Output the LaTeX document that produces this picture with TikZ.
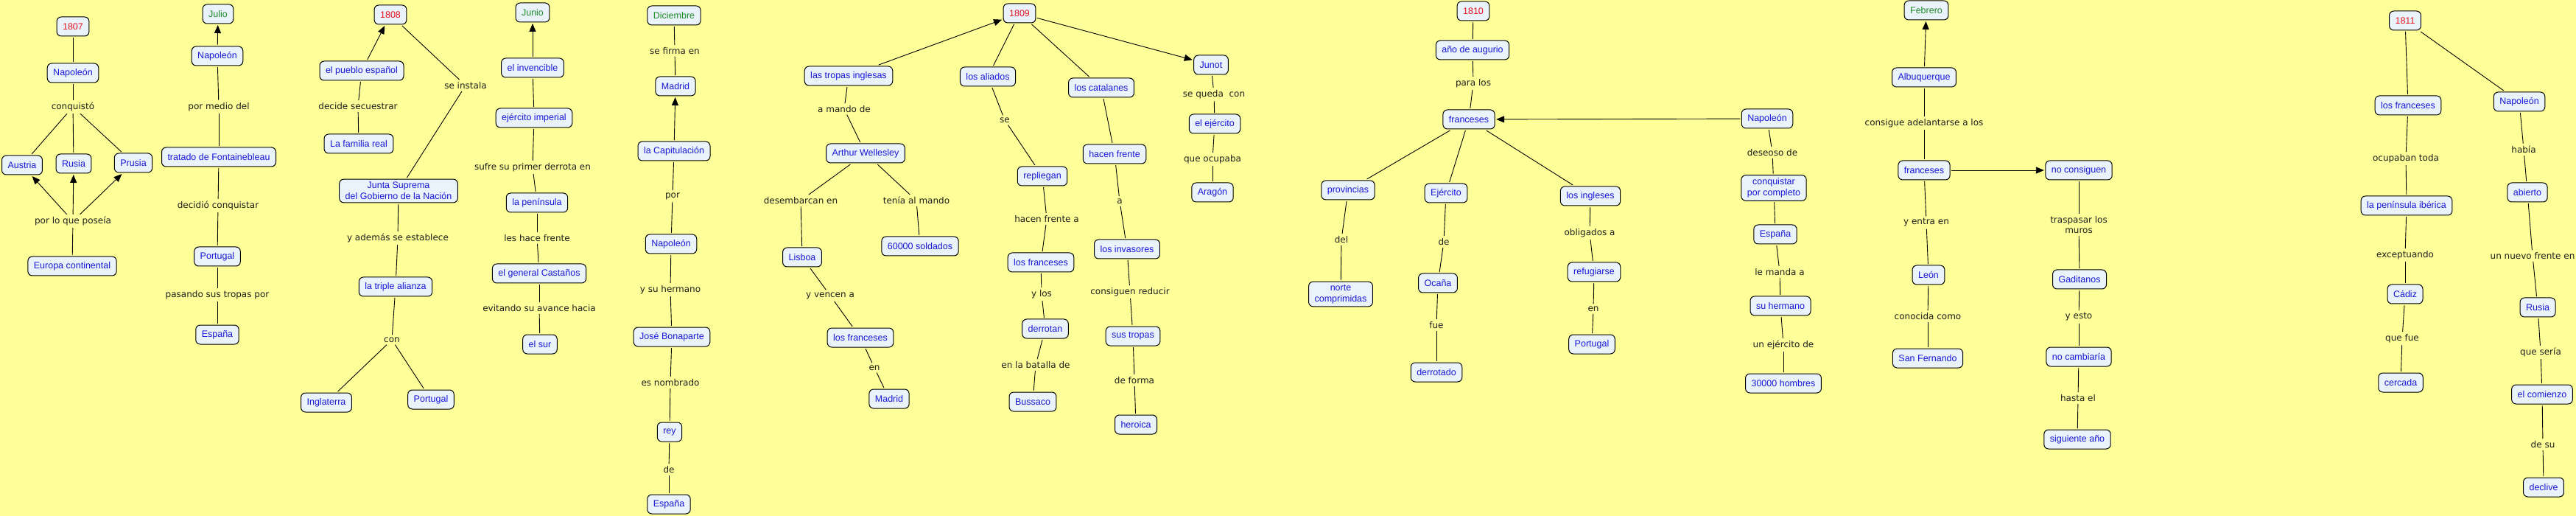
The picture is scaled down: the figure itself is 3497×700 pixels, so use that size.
\documentclass[tikz,border=0pt]{standalone}
\usepackage{fontspec}
\setmainfont{DejaVu Sans}
\newfontfamily\conceptfont{Liberation Sans}
\usetikzlibrary{arrows.meta,backgrounds}
\definecolor{bgyellow}{RGB}{255,255,153}
\definecolor{cfill}{RGB}{234,242,250}
\definecolor{cblue}{RGB}{25,25,215}
\definecolor{cred}{RGB}{230,20,30}
\definecolor{cgreen}{RGB}{30,140,40}
\definecolor{ltext}{RGB}{30,30,30}
\begin{document}
\begin{tikzpicture}[x=1pt,y=-1pt,
 concept/.style={draw=black, line width=1pt, rounded corners=6pt, fill=cfill, text=cblue,
   font=\conceptfont\fontsize{12.5}{15}\selectfont, inner xsep=8pt, inner ysep=4pt,
   minimum height=26pt, align=center, outer sep=2pt},
 year/.style={concept, text=cred},
 month/.style={concept, text=cgreen},
 lbl/.style={font=\fontsize{12}{14}\selectfont, text=ltext, inner sep=3pt, align=center},
 conn/.style={line width=0.9pt, draw=black},
 arr/.style={conn, -{Triangle[length=11pt,width=9pt]}},
]
\fill[bgyellow] (0,0) rectangle (3497,700);
\useasboundingbox (0,0) rectangle (3497,700);

% ---------- timeline ----------
\node[year]  (y1807) at (99,36) {1807};
\node[month] (julio) at (296,19) {Julio};
\node[year]  (y1808) at (530,20) {1808};
\node[month] (junio) at (723,17) {Junio};
\node[month] (dic)   at (915,21) {Diciembre};
\node[year]  (y1809) at (1384,18) {1809};
\node[year]  (y1810) at (2000,15) {1810};
\node[month] (feb)   at (2615,14) {Febrero};
\node[year]  (y1811) at (3265,28) {1811};

% ---------- 1807 ----------
\node[concept] (nap1) at (99,99) {Napoleón};
\node[lbl] (lconq) at (99,145) {conquistó};
\node[concept] (austria) at (30,224) {Austria};
\node[concept] (rusia) at (100,222) {Rusia};
\node[concept] (prusia) at (181,221) {Prusia};
\node[lbl] (lposeia) at (99,300) {por lo que poseía};
\node[concept] (europa) at (98,361) {Europa continental};

% ---------- Julio ----------
\node[concept] (nap2) at (295,76) {Napoleón};
\node[lbl] (lmedio) at (297,145) {por medio del};
\node[concept] (tratado) at (297,213) {tratado de Fontainebleau};
\node[lbl] (ldecidio) at (296,279) {decidió conquistar};
\node[concept] (portugalA) at (295,348) {Portugal};
\node[lbl] (lpasando) at (295,400) {pasando sus tropas por};
\node[concept] (espanaA) at (295,454) {España};

% ---------- 1808 ----------
\node[concept] (pueblo) at (491,96) {el pueblo español};
\node[lbl] (lsecuestrar) at (486,144) {decide secuestrar};
\node[concept] (familia) at (487,195) {La familia real};
\node[lbl] (linstala) at (632,116) {se instala};
\node[concept] (junta) at (541,259) {Junta Suprema\\del Gobierno de la Nación};
\node[lbl] (lestablece) at (540,323) {y además se establece};
\node[concept] (triple) at (537,389) {la triple alianza};
\node[lbl] (lcon) at (532,461) {con};
\node[concept] (inglaterra) at (443,546) {Inglaterra};
\node[concept] (portugalB) at (585,542) {Portugal};

% ---------- Junio ----------
\node[concept] (invencible) at (723,92) {el invencible};
\node[concept] (imperial) at (725,160) {ejército imperial};
\node[lbl] (lsufre) at (723,227) {sufre su primer derrota en};
\node[concept] (peninsula) at (729,275) {la península};
\node[lbl] (lfrente) at (729,323) {les hace frente};
\node[concept] (castanos) at (732,371) {el general Castaños};
\node[lbl] (levitando) at (732,418) {evitando su avance hacia};
\node[concept] (sur) at (733,467) {el sur};

% ---------- Diciembre ----------
\node[lbl] (lfirma) at (916,69) {se firma en};
\node[concept] (madridA) at (917,117) {Madrid};
\node[concept] (capitulacion) at (915,205) {la Capitulación};
\node[lbl] (lpor) at (913,266) {por};
\node[concept] (nap3) at (911,331) {Napoleón};
\node[lbl] (lhermano) at (910,393) {y su hermano};
\node[concept] (jose) at (912,457) {José Bonaparte};
\node[lbl] (lnombrado) at (910,519) {es nombrado};
\node[concept] (rey) at (909,586) {rey};
\node[lbl] (ldeA) at (908,637) {de};
\node[concept] (espanaB) at (908,684) {España};

% ---------- tropas inglesas ----------
\node[concept] (tropas) at (1152,103) {las tropas inglesas};
\node[lbl] (lmando) at (1146,148) {a mando de};
\node[concept] (arthur) at (1175,208) {Arthur Wellesley};
\node[lbl] (ldesemb) at (1087,272) {desembarcan en};
\node[concept] (lisboa) at (1089,349) {Lisboa};
\node[lbl] (lvencen) at (1127,401) {y vencen a};
\node[concept] (francA) at (1168,458) {los franceses};
\node[lbl] (lenA) at (1187,499) {en};
\node[concept] (madridB) at (1207,541) {Madrid};
\node[lbl] (ltenia) at (1244,272) {tenía al mando};
\node[concept] (soldados) at (1249,334) {60000 soldados};

% ---------- 1809 ----------
\node[concept] (aliados) at (1341,104) {los aliados};
\node[lbl] (lse) at (1364,163) {se};
\node[concept] (repliegan) at (1415,239) {repliegan};
\node[lbl] (lhacen) at (1421,297) {hacen frente a};
\node[concept] (francB) at (1413,356) {los franceses};
\node[lbl] (lylos) at (1414,399) {y los};
\node[concept] (derrotan) at (1419,446) {derrotan};
\node[lbl] (lbatalla) at (1406,495) {en la batalla de};
\node[concept] (bussaco) at (1402,545) {Bussaco};
\node[concept] (catalanes) at (1495,119) {los catalanes};
\node[concept] (hacenfrente) at (1513,209) {hacen frente};
\node[lbl] (la) at (1520,273) {a};
\node[concept] (invasores) at (1530,338) {los invasores};
\node[lbl] (lreducir) at (1534,396) {consiguen reducir};
\node[concept] (sustropas) at (1538,456) {sus tropas};
\node[lbl] (lforma) at (1540,516) {de forma};
\node[concept] (heroica) at (1542,576) {heroica};
\node[concept] (junot) at (1644,88) {Junot};
\node[lbl] (lqueda) at (1648,128) {se queda\ \ con};
\node[concept] (ejercitoA) at (1649,168) {el ejército};
\node[lbl] (locupaba) at (1646,216) {que ocupaba};
\node[concept] (aragon) at (1646,261) {Aragón};

% ---------- 1810 ----------
\node[concept] (augurio) at (1999,68) {año de augurio};
\node[lbl] (lpara) at (2000,113) {para los};
\node[concept] (francC) at (1994,162) {franceses};
\node[concept] (provincias) at (1830,258) {provincias};
\node[lbl] (ldel) at (1821,325) {del};
\node[concept] (norte) at (1820,399) {norte\\comprimidas};
\node[concept] (ejercitoB) at (1963,262) {Ejército};
\node[lbl] (ldeB) at (1960,328) {de};
\node[concept] (ocana) at (1952,384) {Ocaña};
\node[lbl] (lfue) at (1950,441) {fue};
\node[concept] (derrotado) at (1950,505) {derrotado};
\node[concept] (ingleses) at (2159,266) {los ingleses};
\node[lbl] (lobligados) at (2158,316) {obligados a};
\node[concept] (refugiarse) at (2164,369) {refugiarse};
\node[lbl] (lenB) at (2163,419) {en};
\node[concept] (portugalC) at (2161,467) {Portugal};
\node[concept] (nap4) at (2399,161) {Napoleón};
\node[lbl] (ldeseoso) at (2406,207) {deseoso de};
\node[concept] (conquistar) at (2408,255) {conquistar\\por completo};
\node[concept] (espanaC) at (2410,318) {España};
\node[lbl] (lmanda) at (2416,369) {le manda a};
\node[concept] (hermano) at (2417,415) {su hermano};
\node[lbl] (lejercito) at (2421,468) {un ejército de};
\node[concept] (hombres) at (2421,520) {30000 hombres};

% ---------- Febrero ----------
\node[concept] (albuquerque) at (2612,105) {Albuquerque};
\node[lbl] (ladelantarse) at (2612,167) {consigue adelantarse a los};
\node[concept] (francD) at (2612,231) {franceses};
\node[concept] (nocons) at (2822,231) {no consiguen};
\node[lbl] (ltraspasar) at (2822,305) {traspasar los\\muros};
\node[concept] (gaditanos) at (2823,379) {Gaditanos};
\node[lbl] (lesto) at (2822,430) {y esto};
\node[concept] (nocambiaria) at (2822,484) {no cambiaría};
\node[lbl] (lhasta) at (2821,540) {hasta el};
\node[concept] (siguiente) at (2820,596) {siguiente año};
\node[lbl] (lentra) at (2615,302) {y entra en};
\node[concept] (leon) at (2618,373) {León};
\node[lbl] (lconocida) at (2617,429) {conocida como};
\node[concept] (sanfernando) at (2617,486) {San Fernando};

% ---------- 1811 ----------
\node[concept] (francE) at (3269,143) {los franceses};
\node[lbl] (locupaban) at (3266,215) {ocupaban toda};
\node[concept] (iberica) at (3267,279) {la península ibérica};
\node[lbl] (lexcept) at (3265,346) {exceptuando};
\node[concept] (cadiz) at (3265,399) {Cádiz};
\node[lbl] (lquefue) at (3261,459) {que fue};
\node[concept] (cercada) at (3259,519) {cercada};
\node[concept] (nap5) at (3420,138) {Napoleón};
\node[lbl] (lhabia) at (3426,203) {había};
\node[concept] (abierto) at (3431,261) {abierto};
\node[lbl] (lfrenteB) at (3438,347) {un nuevo frente en};
\node[concept] (rusiaB) at (3445,417) {Rusia};
\node[lbl] (lseria) at (3449,478) {que sería};
\node[concept] (comienzo) at (3451,535) {el comienzo};
\node[lbl] (ldesu) at (3452,603) {de su};
\node[concept] (declive) at (3453,661) {declive};

% ---------- connectors ----------
\begin{scope}[on background layer]
\draw[arr] (y1807) -- (y1811);
\end{scope}

% 1807
\draw[conn] (y1807) -- (nap1);
\draw[conn] (nap1) -- (lconq);
\draw[conn] (lconq) -- (austria);
\draw[conn] (lconq) -- (rusia);
\draw[conn] (lconq) -- (prusia);
\draw[conn] (europa) -- (lposeia);
\draw[arr] (lposeia) -- (austria);
\draw[arr] (lposeia) -- (rusia);
\draw[arr] (lposeia) -- (prusia);

% Julio
\draw[arr] (nap2) -- (julio);
\draw[conn] (nap2) -- (lmedio);
\draw[conn] (lmedio) -- (tratado);
\draw[conn] (tratado) -- (ldecidio);
\draw[conn] (ldecidio) -- (portugalA);
\draw[conn] (portugalA) -- (lpasando);
\draw[conn] (lpasando) -- (espanaA);

% 1808
\draw[arr] (pueblo) -- (y1808);
\draw[conn] (pueblo) -- (lsecuestrar);
\draw[conn] (lsecuestrar) -- (familia);
\draw[conn] (y1808) -- (linstala);
\draw[conn] (linstala) -- (junta);
\draw[conn] (junta) -- (lestablece);
\draw[conn] (lestablece) -- (triple);
\draw[conn] (triple) -- (lcon);
\draw[conn] (lcon) -- (inglaterra);
\draw[conn] (lcon) -- (portugalB);

% Junio
\draw[arr] (invencible) -- (junio);
\draw[conn] (invencible) -- (imperial);
\draw[conn] (imperial) -- (lsufre);
\draw[conn] (lsufre) -- (peninsula);
\draw[conn] (peninsula) -- (lfrente);
\draw[conn] (lfrente) -- (castanos);
\draw[conn] (castanos) -- (levitando);
\draw[conn] (levitando) -- (sur);

% Diciembre
\draw[conn] (dic) -- (lfirma);
\draw[conn] (lfirma) -- (madridA);
\draw[arr] (capitulacion) -- (madridA);
\draw[conn] (capitulacion) -- (lpor);
\draw[conn] (lpor) -- (nap3);
\draw[conn] (nap3) -- (lhermano);
\draw[conn] (lhermano) -- (jose);
\draw[conn] (jose) -- (lnombrado);
\draw[conn] (lnombrado) -- (rey);
\draw[conn] (rey) -- (ldeA);
\draw[conn] (ldeA) -- (espanaB);

% tropas inglesas
\draw[arr] (tropas) -- (y1809);
\draw[conn] (tropas) -- (lmando);
\draw[conn] (lmando) -- (arthur);
\draw[conn] (arthur) -- (ldesemb);
\draw[conn] (ldesemb) -- (lisboa);
\draw[conn] (lisboa) -- (lvencen);
\draw[conn] (lvencen) -- (francA);
\draw[conn] (francA) -- (lenA);
\draw[conn] (lenA) -- (madridB);
\draw[conn] (arthur) -- (ltenia);
\draw[conn] (ltenia) -- (soldados);

% 1809
\draw[conn] (y1809) -- (aliados);
\draw[conn] (aliados) -- (lse);
\draw[conn] (lse) -- (repliegan);
\draw[conn] (repliegan) -- (lhacen);
\draw[conn] (lhacen) -- (francB);
\draw[conn] (francB) -- (lylos);
\draw[conn] (lylos) -- (derrotan);
\draw[conn] (derrotan) -- (lbatalla);
\draw[conn] (lbatalla) -- (bussaco);
\draw[conn] (y1809) -- (catalanes);
\draw[conn] (catalanes) -- (hacenfrente);
\draw[conn] (hacenfrente) -- (la);
\draw[conn] (la) -- (invasores);
\draw[conn] (invasores) -- (lreducir);
\draw[conn] (lreducir) -- (sustropas);
\draw[conn] (sustropas) -- (lforma);
\draw[conn] (lforma) -- (heroica);
\draw[arr] (y1809) -- (junot);
\draw[conn] (junot) -- (lqueda);
\draw[conn] (lqueda) -- (ejercitoA);
\draw[conn] (ejercitoA) -- (locupaba);
\draw[conn] (locupaba) -- (aragon);

% 1810
\draw[conn] (y1810) -- (augurio);
\draw[conn] (augurio) -- (lpara);
\draw[conn] (lpara) -- (francC);
\draw[conn] (francC) -- (provincias);
\draw[conn] (provincias) -- (ldel);
\draw[conn] (ldel) -- (norte);
\draw[conn] (francC) -- (ejercitoB);
\draw[conn] (ejercitoB) -- (ldeB);
\draw[conn] (ldeB) -- (ocana);
\draw[conn] (ocana) -- (lfue);
\draw[conn] (lfue) -- (derrotado);
\draw[conn] (francC) -- (ingleses);
\draw[conn] (ingleses) -- (lobligados);
\draw[conn] (lobligados) -- (refugiarse);
\draw[conn] (refugiarse) -- (lenB);
\draw[conn] (lenB) -- (portugalC);
\draw[arr] (nap4) -- (francC);
\draw[conn] (nap4) -- (ldeseoso);
\draw[conn] (ldeseoso) -- (conquistar);
\draw[conn] (conquistar) -- (espanaC);
\draw[conn] (espanaC) -- (lmanda);
\draw[conn] (lmanda) -- (hermano);
\draw[conn] (hermano) -- (lejercito);
\draw[conn] (lejercito) -- (hombres);

% Febrero
\draw[arr] (albuquerque) -- (feb);
\draw[conn] (albuquerque) -- (ladelantarse);
\draw[conn] (ladelantarse) -- (francD);
\draw[arr] (francD) -- (nocons);
\draw[conn] (nocons) -- (ltraspasar);
\draw[conn] (ltraspasar) -- (gaditanos);
\draw[conn] (gaditanos) -- (lesto);
\draw[conn] (lesto) -- (nocambiaria);
\draw[conn] (nocambiaria) -- (lhasta);
\draw[conn] (lhasta) -- (siguiente);
\draw[conn] (francD) -- (lentra);
\draw[conn] (lentra) -- (leon);
\draw[conn] (leon) -- (lconocida);
\draw[conn] (lconocida) -- (sanfernando);

% 1811
\draw[conn] (y1811) -- (francE);
\draw[conn] (francE) -- (locupaban);
\draw[conn] (locupaban) -- (iberica);
\draw[conn] (iberica) -- (lexcept);
\draw[conn] (lexcept) -- (cadiz);
\draw[conn] (cadiz) -- (lquefue);
\draw[conn] (lquefue) -- (cercada);
\draw[conn] (y1811) -- (nap5);
\draw[conn] (nap5) -- (lhabia);
\draw[conn] (lhabia) -- (abierto);
\draw[conn] (abierto) -- (lfrenteB);
\draw[conn] (lfrenteB) -- (rusiaB);
\draw[conn] (rusiaB) -- (lseria);
\draw[conn] (lseria) -- (comienzo);
\draw[conn] (comienzo) -- (ldesu);
\draw[conn] (ldesu) -- (declive);
\end{tikzpicture}
\end{document}
